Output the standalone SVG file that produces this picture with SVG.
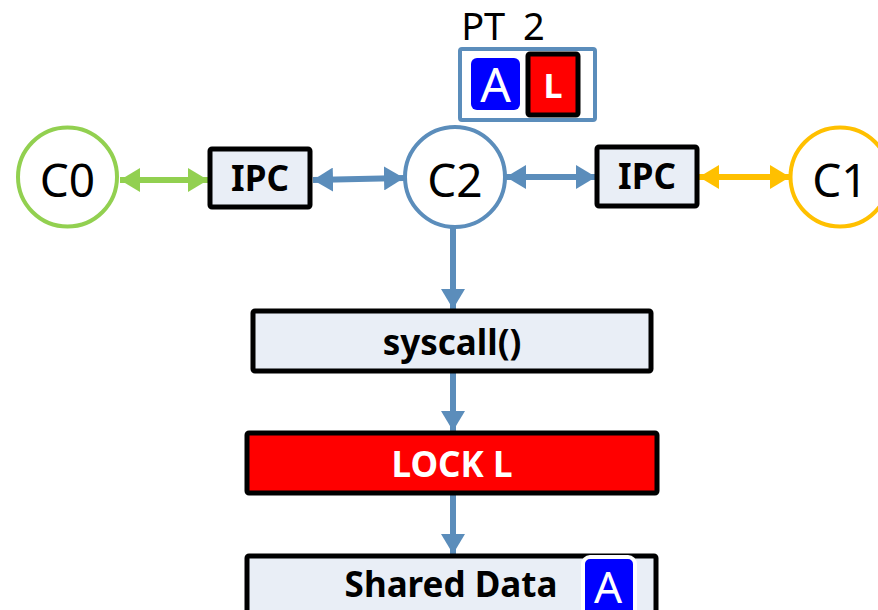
<svg xmlns="http://www.w3.org/2000/svg" width="878" height="610" viewBox="0 0 878 610">
  <style>
    text { font-family: "Noto Sans", "Open Sans", "DejaVu Sans", sans-serif; text-anchor: middle; }
    .core { fill: #ffffff; stroke-width: 4; }
    .core-label { font-size: 46px; fill: #000000; }
    .box { fill: #E9EEF6; stroke: #000000; stroke-width: 5; }
    .box-label { font-size: 35px; font-weight: bold; fill: #000000; }
    .lock { fill: #FF0000; stroke: #000000; stroke-width: 5; }
    .lock-label { font-size: 35px; font-weight: bold; fill: #ffffff; }
    .link { fill: none; stroke-width: 6; }
    .badge-a { fill: #0000FF; }
    .badge-text { fill: #ffffff; }
  </style>
  <defs>
    <marker id="head-green" viewBox="0 0 20 24" refX="20" refY="12" markerWidth="20" markerHeight="24" markerUnits="userSpaceOnUse" orient="auto-start-reverse">
      <path d="M0,0 L20,12 L0,24 Z" fill="#92D050"/>
    </marker>
    <marker id="head-blue" viewBox="0 0 20 24" refX="20" refY="12" markerWidth="20" markerHeight="24" markerUnits="userSpaceOnUse" orient="auto-start-reverse">
      <path d="M0,0 L20,12 L0,24 Z" fill="#5B8DBB"/>
    </marker>
    <marker id="head-yellow" viewBox="0 0 20 24" refX="20" refY="12" markerWidth="20" markerHeight="24" markerUnits="userSpaceOnUse" orient="auto-start-reverse">
      <path d="M0,0 L20,12 L0,24 Z" fill="#FFC000"/>
    </marker>
  </defs>

  <!-- connectors -->
  <g id="connectors">
    <line class="link" x1="120" y1="180" x2="208" y2="180" stroke="#92D050" marker-start="url(#head-green)" marker-end="url(#head-green)"/>
    <line class="link" x1="313" y1="180" x2="404" y2="178" stroke="#5B8DBB" marker-start="url(#head-blue)" marker-end="url(#head-blue)"/>
    <line class="link" x1="506" y1="177" x2="596" y2="177" stroke="#5B8DBB" marker-start="url(#head-blue)" marker-end="url(#head-blue)"/>
    <line class="link" x1="699" y1="177" x2="790" y2="177" stroke="#FFC000" marker-start="url(#head-yellow)" marker-end="url(#head-yellow)"/>
    <line class="link" x1="453" y1="228" x2="453" y2="309" stroke="#5B8DBB" stroke-width="8" marker-end="url(#head-blue)"/>
    <line class="link" x1="453" y1="373" x2="453" y2="431" stroke="#5B8DBB" stroke-width="8" marker-end="url(#head-blue)"/>
    <line class="link" x1="453" y1="495" x2="453" y2="554" stroke="#5B8DBB" stroke-width="8" marker-end="url(#head-blue)"/>
  </g>

  <!-- page table of C2 -->
  <g id="pt2">
    <text x="503" y="40" font-size="38" word-spacing="8" fill="#000000">PT 2</text>
    <rect x="460" y="49" width="135" height="71" rx="2" fill="#ffffff" stroke="#5B8DBB" stroke-width="4"/>
    <rect class="badge-a" x="471" y="58" width="49" height="52" rx="6"/>
    <text class="badge-text" x="495.5" y="102" font-size="48">A</text>
    <rect x="528" y="54" width="50" height="61" rx="2" fill="#FF0000" stroke="#000000" stroke-width="5"/>
    <text class="badge-text" x="553" y="98" font-size="34" font-weight="bold">L</text>
  </g>

  <g id="c0">
    <circle class="core" cx="67.5" cy="177" r="49.5" stroke="#92D050"/>
    <text class="core-label" x="67.5" y="197">C0</text>
  </g>

  <g id="ipc-left">
    <rect class="box" x="210" y="149" width="100" height="58" rx="2"/>
    <text class="box-label" x="260" y="191">IPC</text>
  </g>

  <g id="c2">
    <circle class="core" cx="455" cy="177" r="50" stroke="#5B8DBB"/>
    <text class="core-label" x="455" y="197">C2</text>
  </g>

  <g id="ipc-right">
    <rect class="box" x="597" y="147" width="100" height="59" rx="2"/>
    <text class="box-label" x="647" y="189">IPC</text>
  </g>

  <g id="c1">
    <circle class="core" cx="840" cy="177" r="49.5" stroke="#FFC000"/>
    <text class="core-label" x="840" y="197">C1</text>
  </g>

  <g id="syscall">
    <rect class="box" x="253" y="311" width="398" height="60" rx="2"/>
    <text class="box-label" x="452" y="355">syscall()</text>
  </g>

  <g id="lock">
    <rect class="lock" x="247" y="433" width="410" height="60" rx="2"/>
    <text class="lock-label" x="452" y="477">LOCK L</text>
  </g>

  <g id="shared-data">
    <rect class="box" x="247" y="556" width="409" height="70" rx="2"/>
    <text class="box-label" x="451" y="597">Shared Data</text>
    <rect class="badge-a" x="583" y="557" width="52" height="62" rx="7" stroke="#ffffff" stroke-width="4"/>
    <text class="badge-text" x="608" y="603" font-size="44">A</text>
  </g>
</svg>
